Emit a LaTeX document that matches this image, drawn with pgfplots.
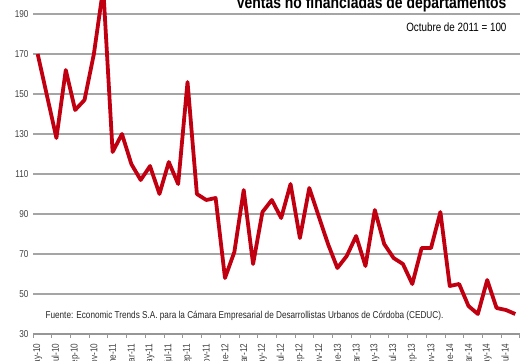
\documentclass[border=0pt]{standalone}
\usepackage{pgfplots}
\pgfplotsset{compat=1.18}
\usepackage{fontspec}
\setmainfont{Liberation Sans}[FakeStretch=0.82]
\definecolor{linered}{RGB}{192,0,16}
\definecolor{gridgray}{RGB}{165,165,165}
\definecolor{axisgray}{RGB}{150,150,150}
\begin{document}
\begin{tikzpicture}
\begin{axis}[
  at={(33pt,26pt)}, anchor=south west,
  scale only axis, width=487pt, height=360pt,
  xmin=-0.5, xmax=51.5, ymin=30, ymax=210,
  clip=false,
  axis line style={draw=none},
  ytick={30,50,...,190},
  xtick={0,2,...,50},
  xticklabels={may-10,jul-10,sep-10,nov-10,ene-11,mar-11,may-11,jul-11,sep-11,nov-11,ene-12,mar-12,may-12,jul-12,sep-12,nov-12,ene-13,mar-13,may-13,jul-13,sep-13,nov-13,ene-14,mar-14,may-14,jul-14},
  major tick length=0pt,
  xtick pos=left, ytick pos=left,
  /pgf/number format/assume math mode=true,
  yticklabel style={font=\fontsize{10}{12}\selectfont, text=black!75, xshift=-1pt},
  xticklabel style={rotate=90, anchor=east, font=\fontsize{10}{12}\selectfont, text=black!75, xshift=-6pt},
]
\pgfplotsinvokeforeach{50,70,...,190}{
  \fill[gridgray] ([yshift=-1pt]axis cs:-0.5,#1) rectangle ([yshift=1pt]axis cs:51.5,#1);
}
\fill[axisgray] ([yshift=-0.6pt]axis cs:-0.5,30) rectangle ([yshift=0.6pt]axis cs:51.5,30);
\pgfplotsinvokeforeach{-0.5,1.5,...,51.5}{
  \fill[axisgray] ([xshift=-0.5pt]axis cs:#1,30) rectangle ([xshift=0.5pt,yshift=-3.5pt]axis cs:#1,30);
}
\addplot[linered, line width=3.8pt, line join=round, no markers] table {
x y
0 170
1 149
2 128
3 162
4 142
5 147
6 170
7 203
8 121
9 130
10 115
11 107
12 114
13 100
14 116
15 105
16 156
17 100
18 97
19 98
20 58
21 71
22 102
23 65
24 91
25 97
26 88
27 105
28 78
29 103
30 89
31 75
32 63
33 69
34 79
35 64
36 92
37 75
38 68
39 65
40 55
41 73
42 73
43 91
44 54
45 55
46 44
47 40
48 57
49 43
50 42
51 40
};
\end{axis}
\node[anchor=base east, font=\bfseries\fontsize{17}{20}\selectfont] at (510pt,351.5pt) {Ventas no financiadas de departamentos};
\node[anchor=base east, font=\fontsize{12}{14}\selectfont] at (510pt,328.5pt) {Octubre de 2011 = 100};
\node[anchor=base west, font=\fontsize{10}{12}\selectfont, text=black!85] at (42pt,42pt) {Fuente: Economic Trends S.A. para la Cámara Empresarial de Desarrollistas Urbanos de Córdoba (CEDUC).};
\pgfresetboundingbox
\useasboundingbox (0pt,0pt) rectangle (530pt,360pt);
\end{tikzpicture}
\end{document}
